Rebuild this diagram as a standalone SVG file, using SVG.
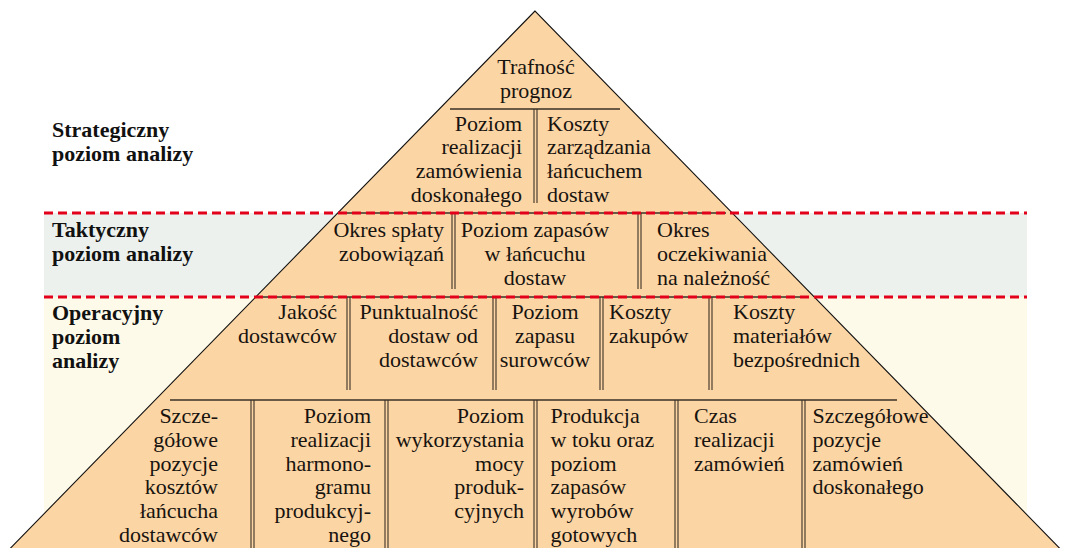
<svg xmlns="http://www.w3.org/2000/svg" width="1067" height="548" viewBox="0 0 1067 548">
<defs>
<style>
.t{font-family:"Liberation Serif","Times New Roman",serif;font-size:22px;fill:#17130f}
.b{font-family:"Liberation Serif","Times New Roman",serif;font-size:22px;font-weight:bold;fill:#111}
.r{text-anchor:end}
.c{text-anchor:middle}
.h{stroke:#3a3026;stroke-width:1.3;fill:none}
.v{stroke:#3a3026;stroke-width:1.1;fill:none}
.dash{stroke:#E2001A;stroke-width:3;stroke-dasharray:9 5;fill:none}
</style>
</defs>
<rect x="0" y="0" width="1067" height="548" fill="#ffffff"/>
<rect x="44" y="213" width="983" height="84" fill="#ECF1EE"/>
<rect x="44" y="297" width="983" height="251" fill="#FEFAEA"/>
<polygon points="535,11 -5,564 1075,564" fill="#FCD5A4" stroke="#111" stroke-width="1.1"/>

<g id="connectors">
<line class="h" x1="450" y1="109" x2="620" y2="109"/>
<line class="v" x1="534" y1="109" x2="534" y2="203"/><line class="v" x1="537" y1="109" x2="537" y2="203"/>
<line class="h" x1="345" y1="213" x2="726" y2="213"/>
<line class="v" x1="452" y1="213" x2="452" y2="289"/><line class="v" x1="455" y1="213" x2="455" y2="289"/>
<line class="v" x1="638" y1="213" x2="638" y2="289"/><line class="v" x1="641" y1="213" x2="641" y2="289"/>
<line class="h" x1="262" y1="297" x2="808" y2="297"/>
<line class="v" x1="347" y1="297" x2="347" y2="390"/><line class="v" x1="350" y1="297" x2="350" y2="390"/>
<line class="v" x1="493" y1="297" x2="493" y2="390"/><line class="v" x1="496" y1="297" x2="496" y2="390"/>
<line class="v" x1="600" y1="297" x2="600" y2="390"/><line class="v" x1="603" y1="297" x2="603" y2="390"/>
<line class="v" x1="709" y1="297" x2="709" y2="390"/><line class="v" x1="712" y1="297" x2="712" y2="390"/>
<line class="h" x1="170" y1="400" x2="897" y2="400"/>
<line class="v" x1="251" y1="400" x2="251" y2="548"/><line class="v" x1="254" y1="400" x2="254" y2="548"/>
<line class="v" x1="385" y1="400" x2="385" y2="548"/><line class="v" x1="388" y1="400" x2="388" y2="548"/>
<line class="v" x1="534" y1="400" x2="534" y2="548"/><line class="v" x1="537" y1="400" x2="537" y2="548"/>
<line class="v" x1="675" y1="400" x2="675" y2="548"/><line class="v" x1="678" y1="400" x2="678" y2="548"/>
<line class="v" x1="802" y1="400" x2="802" y2="548"/><line class="v" x1="805" y1="400" x2="805" y2="548"/>
<line class="dash" x1="44" y1="213" x2="1027" y2="213"/>
<line class="dash" x1="44" y1="297" x2="1027" y2="297"/>
</g>

<g id="level-strategic"><text class="b" x="52" y="137">Strategiczny</text><text class="b" x="52" y="161">poziom analizy</text></g>
<g id="level-tactical"><text class="b" x="52" y="237">Taktyczny</text><text class="b" x="52" y="261">poziom analizy</text></g>
<g id="level-operational"><text class="b" x="52" y="320">Operacyjny</text><text class="b" x="52" y="344">poziom</text><text class="b" x="52" y="368">analizy</text></g>

<g id="n-trafnosc"><text class="t c" x="536" y="74">Trafność</text><text class="t c" x="536" y="97.5">prognoz</text></g>
<g id="n-poziom-realizacji"><text class="t r" x="522" y="130.5">Poziom</text><text class="t r" x="522" y="154.2">realizacji</text><text class="t r" x="522" y="177.9">zamówienia</text><text class="t r" x="522" y="201.6">doskonałego</text></g>
<g id="n-koszty-zarzadzania"><text class="t" x="547" y="130.5">Koszty</text><text class="t" x="547" y="154.2">zarządzania</text><text class="t" x="547" y="177.9">łańcuchem</text><text class="t" x="547" y="201.6">dostaw</text></g>

<g id="n-okres-splaty"><text class="t r" x="444" y="237.3">Okres spłaty</text><text class="t r" x="444" y="261.3">zobowiązań</text></g>
<g id="n-poziom-zapasow"><text class="t c" x="535" y="237.3">Poziom zapasów</text><text class="t c" x="535" y="261.3">w łańcuchu</text><text class="t c" x="535" y="285">dostaw</text></g>
<g id="n-okres-oczekiwania"><text class="t" x="657" y="237.3">Okres</text><text class="t" x="657" y="261.3">oczekiwania</text><text class="t" x="657" y="285">na należność</text></g>

<g id="n-jakosc"><text class="t r" x="337" y="319.3">Jakość</text><text class="t r" x="337" y="343.3">dostawców</text></g>
<g id="n-punktualnosc"><text class="t r" x="478" y="319.3">Punktualność</text><text class="t r" x="478" y="343.3">dostaw od</text><text class="t r" x="478" y="367.3">dostawców</text></g>
<g id="n-zapas-surowcow"><text class="t c" x="545" y="319.3">Poziom</text><text class="t c" x="545" y="343.3">zapasu</text><text class="t c" x="545" y="367.3">surowców</text></g>
<g id="n-koszty-zakupow"><text class="t" x="609" y="319.3">Koszty</text><text class="t" x="609" y="343.3">zakupów</text></g>
<g id="n-koszty-materialow"><text class="t" x="733" y="319.3">Koszty</text><text class="t" x="733" y="343.3">materiałów</text><text class="t" x="733" y="367.3">bezpośrednich</text></g>

<g id="n-szczegolowe-kosztow"><text class="t r" x="218" y="423.3">Szcze-</text><text class="t r" x="218" y="447">gółowe</text><text class="t r" x="218" y="470.7">pozycje</text><text class="t r" x="218" y="494.4">kosztów</text><text class="t r" x="218" y="518.1">łańcucha</text><text class="t r" x="218" y="541.8">dostawców</text></g>
<g id="n-harmonogram"><text class="t r" x="371" y="423.3">Poziom</text><text class="t r" x="371" y="447">realizacji</text><text class="t r" x="371" y="470.7">harmono-</text><text class="t r" x="371" y="494.4">gramu</text><text class="t r" x="371" y="518.1">produkcyj-</text><text class="t r" x="371" y="541.8">nego</text></g>
<g id="n-moce"><text class="t r" x="524" y="423.3">Poziom</text><text class="t r" x="524" y="447">wykorzystania</text><text class="t r" x="524" y="470.7">mocy</text><text class="t r" x="524" y="494.4">produk-</text><text class="t r" x="524" y="518.1">cyjnych</text></g>
<g id="n-produkcja"><text class="t" x="550.5" y="423.3">Produkcja</text><text class="t" x="550.5" y="447">w toku oraz</text><text class="t" x="550.5" y="470.7">poziom</text><text class="t" x="550.5" y="494.4">zapasów</text><text class="t" x="550.5" y="518.1">wyrobów</text><text class="t" x="550.5" y="541.8">gotowych</text></g>
<g id="n-czas"><text class="t" x="694" y="423.3">Czas</text><text class="t" x="694" y="447">realizacji</text><text class="t" x="694" y="470.7">zamówień</text></g>
<g id="n-szczegolowe-zamowien"><text class="t" x="812.5" y="423.3">Szczegółowe</text><text class="t" x="812.5" y="447">pozycje</text><text class="t" x="812.5" y="470.7">zamówień</text><text class="t" x="812.5" y="494.4">doskonałego</text></g>
</svg>
